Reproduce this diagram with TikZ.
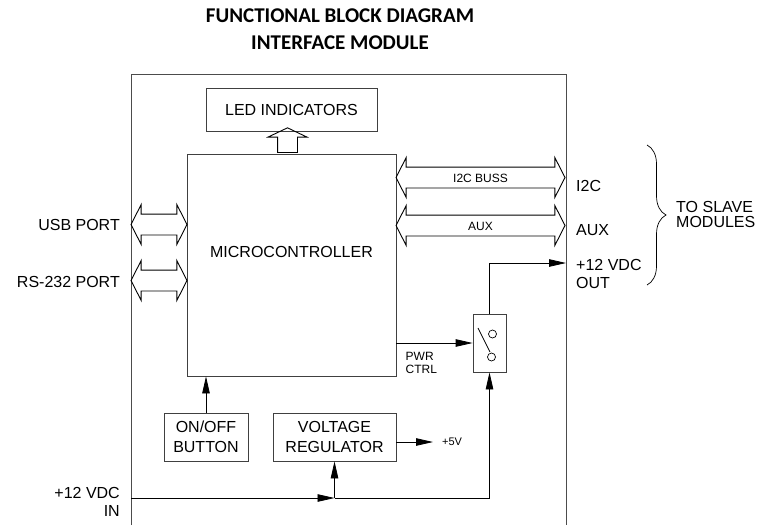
\documentclass[tikz,border=0pt]{standalone}
\usepackage{fontspec}
\setmainfont{Liberation Sans}
\newfontfamily\titlefont{Carlito}
\usetikzlibrary{shapes.arrows,arrows.meta,decorations.pathreplacing,positioning}

\begin{document}
\begin{tikzpicture}[x=1pt, y=-1pt,
    block/.style = {rectangle, draw=black!75, line width=0.8pt, inner sep=0pt,
                    align=center, font=\fontsize{16}{20}\selectfont},
    bus/.style   = {double arrow, draw=black, line width=0.9pt,
                    inner xsep=0pt, inner ysep=5.5pt, text height=9pt, text depth=0pt,
                    double arrow head extend=9.5pt, double arrow tip angle=126,
                    font=\fontsize{12}{14}\selectfont},
    frame/.style = {draw=black!70, line width=0.8pt},
    wire/.style  = {draw, line width=0.8pt},
    sig/.style   = {wire, -{Triangle[length=17pt,width=7.5pt]}},
    lab/.style   = {inner sep=0pt, font=\fontsize{16}{18}\selectfont},
    small/.style = {inner sep=0pt, align=left, font=\fontsize{12}{13}\selectfont},
    title/.style = {inner sep=0pt, font=\titlefont\bfseries\fontsize{21}{25}\selectfont}
  ]
    \useasboundingbox (0,0) rectangle (759,525);

    %% ---- Title ----
    \node[title] (title1) at (340,16) {FUNCTIONAL BLOCK DIAGRAM};
    \node[title] (title2) at (340,43) {INTERFACE MODULE};

    %% ---- Module outline (open at the bottom) ----
    \draw[frame] (131,525) |- (566,74) -- (566,525);

    %% ---- Blocks ----
    \node[block, minimum width=171pt, minimum height=43pt] (led) at (291.5,109.5)
      {LED INDICATORS};
    \node[block, minimum width=209pt, minimum height=222pt] (mcu) at (291.5,265) {};
    \node[lab] (mculab) at (291.5,252) {MICROCONTROLLER};
    \node[block, minimum width=84pt, minimum height=48pt] (onoff) at (206,437)
      {ON/OFF\\BUTTON};
    \node[block, minimum width=123pt, minimum height=48pt] (reg) at (334.5,437)
      {VOLTAGE\\REGULATOR};
    \node[block, minimum width=33pt, minimum height=58pt] (sw) at (489.5,343) {};
    \draw[line width=0.7pt] ([shift={(-11.5,-15)}]sw.center) -- ([shift={(0.5,9)}]sw.center);
    \draw[line width=0.7pt] ([shift={(3,-9)}]sw.center) circle (4);
    \draw[line width=0.7pt] ([shift={(2,14)}]sw.center) circle (4);

    %% ---- Buses ----
    \node[single arrow, draw=black, line width=0.9pt, shape border rotate=90,
          inner sep=9.5pt, text width=0pt, text height=0pt, text depth=0pt,
          single arrow head extend=9.5pt, single arrow tip angle=129,
          minimum height=23pt] (ledbus) at (287.5,142.5) {};
    \node[bus, minimum height=56pt]  (usb)  at (159,224.5) {};
    \node[bus, minimum height=56pt]  (rs)   at (159,280.5) {};
    \node[bus, minimum height=169pt] (i2c)  at (480.5,177.5) {I2C BUSS};
    \node[bus, minimum height=169pt] (aux)  at (480.5,225.5) {AUX};

    %% ---- Power and control wires ----
    \coordinate (vin)  at (131,498);
    \coordinate (jn)   at (reg.south |- vin);
    \coordinate (vout) at (566,263);
    \coordinate (v5)   at (433,442);
    \draw[sig] (onoff.north) -- (onoff.north |- mcu.south);
    \draw[sig] (mcu.east |- sw.west) -- (sw.west);
    \draw[sig] (reg.east |- v5) -- (v5);
    \draw[sig] (vin) -- (jn);
    \draw[sig] (jn) -- (reg.south);
    \draw[wire] (jn) -- (sw.south |- vin);
    \draw[sig] (sw.south |- vin) -- (sw.south);
    \draw[sig] (sw.north) |- (vout);

    %% ---- Labels ----
    \node[small, anchor=north west] (pwr) at (405.5,352) {PWR\\CTRL};
    \node[small, font=\fontsize{11}{13}\selectfont, anchor=west] (v5lab) at (442,442) {+5V};
    \node[lab, anchor=east] (usblab) at (120,224.5) {USB PORT};
    \node[lab, anchor=east] (rslab)  at (120,282) {RS-232 PORT};
    \node[lab, anchor=east, align=right] (vinlab) at (120,502) {+12 VDC\\IN};
    \node[lab, anchor=west] (i2clab) at (576,186) {I2C};
    \node[lab, anchor=west] (auxlab) at (576,230) {AUX};
    \node[lab, anchor=west, align=left] (voutlab) at (576,274) {+12 VDC\\OUT};

    %% ---- To slave modules ----
    \coordinate (brtop) at (647,145);
    \coordinate (brbot) at (647,285);
    \draw[line width=0.7pt, decorate, decoration={brace, amplitude=19pt}] (brtop) -- (brbot);
    \node[lab, anchor=west, align=left, font=\fontsize{16}{15.5}\selectfont] (slave)
      at (676,214.5) {TO SLAVE\\MODULES};

  \end{tikzpicture}
\end{document}
